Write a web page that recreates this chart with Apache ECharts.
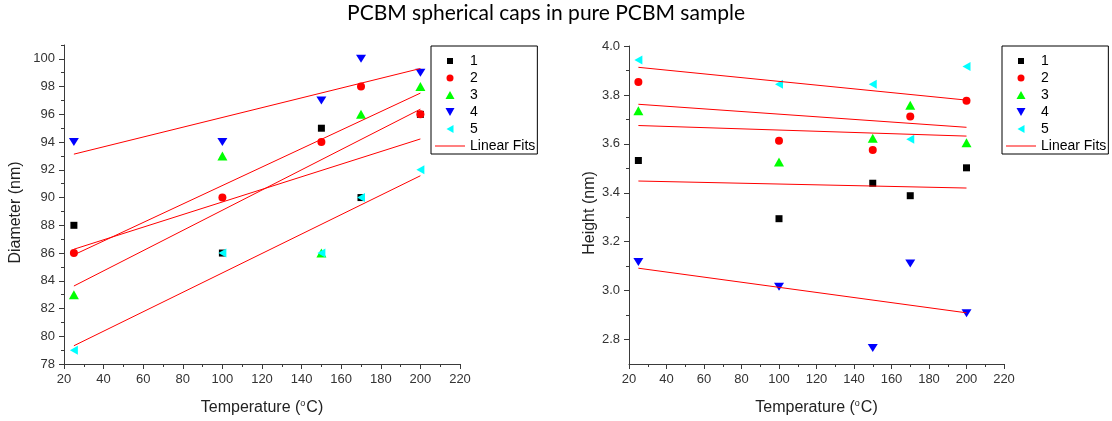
<!DOCTYPE html>
<html>
<head>
<meta charset="utf-8">
<title>PCBM spherical caps in pure PCBM sample</title>
<script src="https://cdn.jsdelivr.net/npm/echarts@6/dist/echarts.min.js"></script>
<style>
  html, body { margin: 0; padding: 0; background: #ffffff; }
  #chart { width: 1112px; height: 421px; }
</style>
</head>
<body>
<div id="chart"></div>
<script>
// Annealing temperatures (°C) shared by every sample
const temperatures = [25, 100, 150, 170, 200];
const sampleNames = ['1', '2', '3', '4', '5'];

// Cap diameter (nm) per sample
const diameter1 = [88, 86, 95, 90, 96];
const diameter2 = [86, 90, 94, 98, 96];
const diameter3 = [83, 93, 86, 96, 98];
const diameter4 = [94, 94, 97, 100, 99];
const diameter5 = [79, 86, 86, 90, 92];

// Cap height (nm) per sample
const height1 = [3.532, 3.294, 3.439, 3.388, 3.502];
const height2 = [3.853, 3.613, 3.575, 3.712, 3.776];
const height3 = [3.735, 3.526, 3.623, 3.758, 3.604];
const height4 = [3.117, 3.016, 2.765, 3.111, 2.907];
const height5 = [3.943, 3.844, 3.844, 3.619, 3.916];

// Tick values
const diameterTicks = [78, 80, 82, 84, 86, 88, 90, 92, 94, 96, 98, 100];
const diameterMinorTicks = [79, 81, 83, 85, 87, 89, 91, 93, 95, 97, 99, 101];
const heightTicks = [2.8, 3.0, 3.2, 3.4, 3.6, 3.8, 4.0];
const heightMinorTicks = [2.9, 3.1, 3.3, 3.5, 3.7, 3.9];

const diameterSeries = [diameter1, diameter2, diameter3, diameter4, diameter5];
const heightSeries = [height1, height2, height3, height4, height5];

const markerColors = ['#000000', '#ff0000', '#00ff00', '#0000ff', '#00ffff'];
const markerShapes = [
  'rect',
  'circle',
  'triangle',
  'path://M0,0L10,0L5,9Z',   // downward triangle
  'path://M0,5L9,0L9,10Z'    // left-pointing triangle
];
const markerSizes = [7, 8, [10, 9], [10, 8], [8, 9]];

// Legend keys: the leading moveTo pairs set the icon's bounding box, so small marks stay small
const legendIcons = [
  'path://M0,0M8,8M1,1L7,1L7,7L1,7Z',
  'path://M0,0M8,8M0.5,4a3.5,3.5 0 1,0 7,0a3.5,3.5 0 1,0 -7,0Z',
  'path://M4.5,0L9,8L0,8Z',
  'path://M0,0L9,0L4.5,8Z',
  'path://M0,0M8,8M0.5,4L7.5,0L7.5,8Z'
];
const fitName = 'Linear Fits';
const fitIcon = 'path://M0,0L30,0L30,1L0,1Z';

// Least-squares straight line through a sample, evaluated at the first and last temperature
function linearFit(xs, ys) {
  const n = xs.length;
  const mx = xs.reduce((a, b) => a + b, 0) / n;
  const my = ys.reduce((a, b) => a + b, 0) / n;
  let sxy = 0, sxx = 0;
  for (let i = 0; i < n; i++) {
    sxy += (xs[i] - mx) * (ys[i] - my);
    sxx += (xs[i] - mx) * (xs[i] - mx);
  }
  const slope = sxy / sxx;
  const icpt = my - slope * mx;
  return [xs[0], xs[n - 1]].map(x => [x, icpt + slope * x]);
}

const axisColor = '#3a3a3a';
const labelFont = 'Liberation Sans';

function tempAxis(gridIndex) {
  return {
    type: 'value', gridIndex: gridIndex, min: 20, max: 220, interval: 20,
    name: 'Temperature ({sup|o}C)', nameLocation: 'middle', nameGap: 35,
    nameTextStyle: {
      fontSize: 16, fontFamily: labelFont, color: '#222',
      rich: { sup: { fontSize: 9, fontFamily: labelFont, color: '#222', padding: [0, 1, 9, 0] } }
    },
    axisLine: { show: true, onZero: false, lineStyle: { color: axisColor, width: 1 } },
    axisTick: { show: true, length: 5, lineStyle: { color: axisColor } },
    minorTick: { show: true, splitNumber: 2, length: 3, lineStyle: { color: axisColor } },
    axisLabel: { color: '#333', fontSize: 13, fontFamily: labelFont, margin: 9 },
    splitLine: { show: false }
  };
}

function valueAxis(gridIndex, min, max, ticks, name, nameGap, fmt) {
  return {
    type: 'value', gridIndex: gridIndex, position: 'left', min: min, max: max,
    name: name, nameLocation: 'middle', nameGap: nameGap,
    nameTextStyle: { fontSize: 16, fontFamily: labelFont, color: '#222', padding: [0, 16, 0, 0] },
    axisLine: { show: true, onZero: false, lineStyle: { color: axisColor, width: 1 } },
    axisTick: { show: true, length: 5, customValues: ticks, lineStyle: { color: axisColor } },
    axisLabel: { color: '#333', fontSize: 13, fontFamily: labelFont, margin: 9, customValues: ticks, formatter: fmt },
    splitLine: { show: false }
  };
}

function minorAxis(gridIndex, min, max, ticks) {
  return {
    type: 'value', gridIndex: gridIndex, position: 'left', min: min, max: max,
    axisLine: { show: false },
    axisTick: { show: true, length: 3, customValues: ticks, lineStyle: { color: axisColor } },
    axisLabel: { show: false },
    splitLine: { show: false }
  };
}

function legendAt(left) {
  const items = sampleNames.map((n, k) => ({ name: n, icon: legendIcons[k] }));
  items.push({ name: fitName, icon: fitIcon });
  return {
    left: left, top: 46, orient: 'vertical',
    itemWidth: 30, itemHeight: 8, itemGap: 1,
    padding: [7, 2, 0, 4],
    borderColor: '#000', borderWidth: 1, backgroundColor: '#ffffff',
    textStyle: { fontSize: 14, fontFamily: labelFont, color: '#000', lineHeight: 16 },
    data: items
  };
}

function buildSeries(values, xIdx, yIdx) {
  const out = [];
  values.forEach((ys, k) => {
    out.push({
      name: sampleNames[k], type: 'scatter', xAxisIndex: xIdx, yAxisIndex: yIdx,
      symbol: markerShapes[k], symbolSize: markerSizes[k],
      itemStyle: { color: markerColors[k], opacity: 1 },
      data: temperatures.map((t, i) => [t, ys[i]]), z: 3 + k
    });
  });
  values.forEach((ys) => {
    out.push({
      name: fitName, type: 'line', xAxisIndex: xIdx, yAxisIndex: yIdx,
      symbol: 'none', silent: true,
      lineStyle: { color: '#ff0000', width: 1 },
      itemStyle: { color: '#ff0000' },
      data: linearFit(temperatures, ys), z: 10
    });
  });
  return out;
}

const chart = echarts.init(document.getElementById('chart'), null, { renderer: 'canvas' });
chart.setOption({
  backgroundColor: '#ffffff',
  animation: false,
  title: {
    text: 'PCBM spherical caps in pure PCBM sample',
    left: 546, top: 3, textAlign: 'center', padding: 0,
    textStyle: { fontSize: 21, fontFamily: 'Lato', fontWeight: 'normal', color: '#000' }
  },
  grid: [
    { left: 64, top: 45, width: 396, height: 321 },
    { left: 629, top: 46, width: 375, height: 320 }
  ],
  legend: [legendAt(431), legendAt(1002)],
  xAxis: [tempAxis(0), tempAxis(1)],
  yAxis: [
    valueAxis(0, 78, 101, diameterTicks, 'Diameter (nm)', 40, v => String(v)),
    minorAxis(0, 78, 101, diameterMinorTicks),
    valueAxis(1, 2.7, 4.0, heightTicks, 'Height (nm)', 31, v => v.toFixed(1)),
    minorAxis(1, 2.7, 4.0, heightMinorTicks)
  ],
  series: buildSeries(diameterSeries, 0, 0).concat(buildSeries(heightSeries, 1, 2))
});
</script>
</body>
</html>
